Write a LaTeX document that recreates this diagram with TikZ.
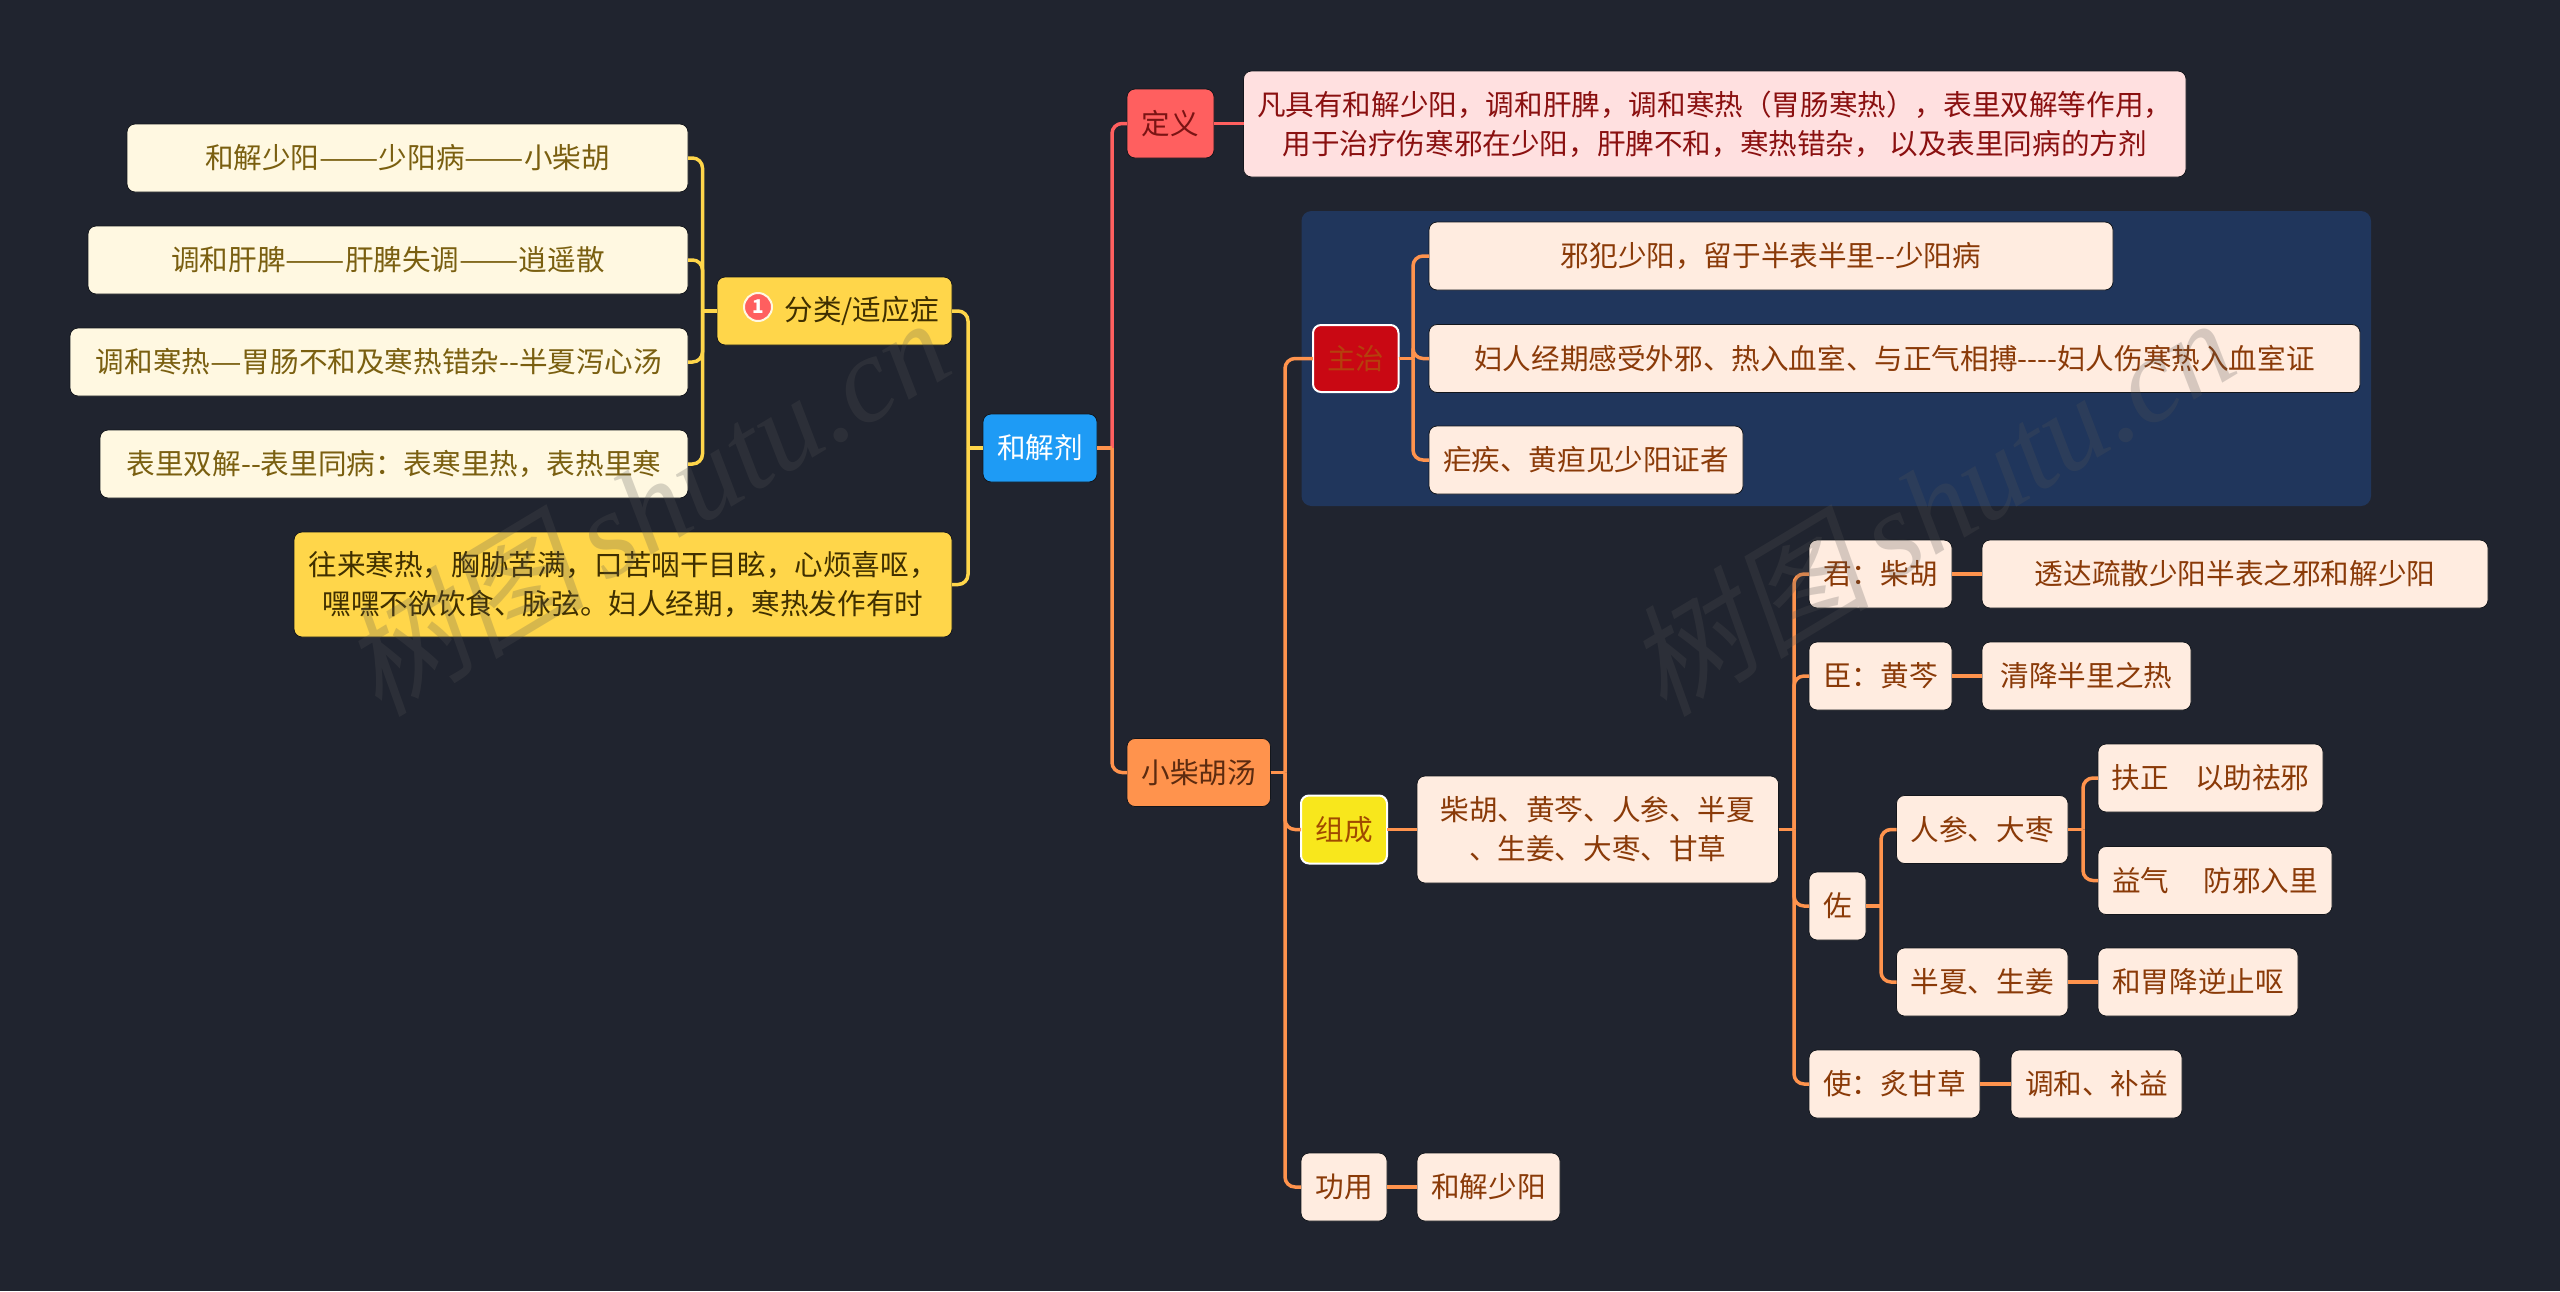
\documentclass[tikz,border=0pt]{standalone}
\usepackage{graphicx}
\usepackage{fontspec}
\setmainfont[Ligatures=NoCommon]{Noto Sans CJK SC}
\newfontfamily\wmcjk[FakeSlant=0.2]{Noto Sans CJK SC}
\newfontfamily\wmlat{Liberation Serif}
\definecolor{bgc}{HTML}{20242F}
\definecolor{panelc}{HTML}{20365C}
\definecolor{yelc}{HTML}{FFD64A}
\definecolor{redc}{HTML}{FF5F5F}
\definecolor{orac}{HTML}{FF934D}
\definecolor{creamf}{HTML}{FFF8E1}
\definecolor{creamt}{HTML}{7A5F10}
\definecolor{goldt}{HTML}{3F2F00}
\definecolor{rootf}{HTML}{1E9BF5}
\definecolor{defht}{HTML}{7A1414}
\definecolor{deff}{HTML}{FFE0E0}
\definecolor{deft}{HTML}{8A1010}
\definecolor{leaff}{HTML}{FFECE0}
\definecolor{leaft}{HTML}{8A3A08}
\definecolor{orat}{HTML}{5C2B10}
\definecolor{zhuf}{HTML}{C90813}
\definecolor{zhut}{HTML}{B5400C}
\definecolor{zucf}{HTML}{F8E71C}
\definecolor{zuct}{HTML}{A04A00}
\definecolor{wmc}{HTML}{555555}
\newcommand\wdash[1]{\scalebox{1.24}[1]{#1}}
\tikzset{
  nd/.style={rounded corners=8pt,inner sep=0pt,outer sep=0pt,align=center,draw=bgc!60!black,line width=.8pt,font=\fontsize{28.6}{39}\selectfont},
  leafL/.style={nd,fill=creamf,text=creamt},
  gold/.style={nd,fill=yelc,text=goldt},
  rootn/.style={nd,fill=rootf,text=white},
  defhead/.style={nd,fill=redc,text=defht},
  deftext/.style={nd,fill=deff,text=deft},
  leafO/.style={nd,fill=leaff,text=leaft},
  orahead/.style={nd,fill=orac,text=orat},
  zhu/.style={nd,fill=zhuf,text=zhut,draw=white,line width=2pt},
  zucheng/.style={nd,fill=zucf,text=zuct,draw=white,line width=2pt},
  lnk/.style={line width=3.5pt,color=#1},
  watermk/.style={rotate=31,text=wmc,opacity=0.24,inner sep=0pt}
}
% name, x1, y1, x2, y2, style, text
\newcommand\bx[7]{\node[#6,minimum width={(#4-#2)*1pt},minimum height={(#5-#3)*1pt}] (#1) at ({(#2+#4)/2},{(#3+#5)/2}) {#7};}
% colour, parent, child, trunk
\newcommand\brR[4]{\draw[lnk=#1] (#2.east) -- (#2.east -| #4);
  \draw[lnk=#1,rounded corners=10pt] (#2.east -| #4) |- (#3.west);}
\newcommand\brL[4]{\draw[lnk=#1] (#2.west) -- (#2.west -| #4);
  \draw[lnk=#1,rounded corners=10pt] (#2.west -| #4) |- (#3.east);}
\newcommand\lk[3]{\draw[lnk=#1] (#2.east) -- (#2.east -| #3.west);}
\begin{document}
\begin{tikzpicture}[x=1pt,y=-1pt]
\fill[bgc] (0,0) rectangle (2560,1291);
\useasboundingbox (0,0) rectangle (2560,1291);
\coordinate (t1) at (702.5,0);
\coordinate (t2) at (968,0);
\coordinate (t3) at (1112,0);
\coordinate (t4) at (1285,0);
\coordinate (t5) at (1413,0);
\coordinate (t6) at (1794,0);
\coordinate (t7) at (1881,0);
\coordinate (t8) at (2083,0);
% panel
\fill[panelc,rounded corners=10pt] (1301.5,211) rectangle (2371,506);
% nodes
\bx{root}{983}{414}{1097}{482}{rootn}{和解剂}
\bx{cat}{717}{277}{952}{345}{gold}{\hspace*{54pt}分类/适应症}
\bx{symp}{294}{532}{952}{637}{gold}{往来寒热，胸胁苦满，口苦咽干目眩，心烦喜呕，\\嘿嘿不欲饮食、脉弦。妇人经期，寒热发作有时}
\bx{la}{127}{124}{688}{192}{leafL}{和解少阳\wdash{——}少阳病\wdash{——}小柴胡}
\bx{lb}{88}{226}{688}{294}{leafL}{调和肝脾\wdash{——}肝脾失调\wdash{——}逍遥散}
\bx{lc}{70}{328}{688}{396}{leafL}{调和寒热\wdash{—}胃肠不和及寒热错杂-{}-半夏泻心汤}
\bx{ld}{100}{430}{688}{498}{leafL}{表里双解-{}-表里同病：表寒里热，表热里寒}
\bx{defh}{1127}{89}{1214}{158}{defhead}{定义}
\bx{deftx}{1243.5}{71}{2186}{177}{deftext}{凡具有和解少阳，调和肝脾，调和寒热（胃肠寒热），表里双解等作用，\\用于治疗伤寒邪在少阳，肝脾不和，寒热错杂， 以及表里同病的方剂}
\bx{xch}{1127}{738.5}{1270.5}{806.5}{orahead}{小柴胡汤}
\bx{zhuz}{1313}{325}{1398.5}{392}{zhu}{主治}
\bx{za}{1429}{222}{2113}{290}{leafO}{邪犯少阳，留于半表半里-{}-少阳病}
\bx{zb}{1429}{324.5}{2360}{392.5}{leafO}{妇人经期感受外邪、热入血室、与正气相搏-{}-{}-{}-妇人伤寒热入血室证}
\bx{zc}{1429}{426}{1743}{494}{leafO}{疟疾、黄疸见少阳证者}
\bx{zuc}{1301}{795.5}{1387}{863.5}{zucheng}{组成}
\bx{zut}{1417}{776}{1778.6}{883}{leafO}{柴胡、黄芩、人参、半夏\\、生姜、大枣、甘草}
\bx{jun}{1809}{540}{1952}{608}{leafO}{君：柴胡}
\bx{juna}{1982}{540}{2488}{608}{leafO}{透达疏散少阳半表之邪和解少阳}
\bx{chen}{1809}{642}{1952}{710}{leafO}{臣：黄芩}
\bx{chena}{1982}{642}{2191}{710}{leafO}{清降半里之热}
\bx{zuo}{1809}{872}{1866}{940}{leafO}{佐}
\bx{rens}{1896.5}{795.5}{2068}{863.5}{leafO}{人参、大枣}
\bx{fz}{2098}{744}{2323}{812}{leafO}{扶正\hspace{20pt} 以助祛邪}
\bx{yq}{2098}{846.5}{2332}{914.5}{leafO}{益气\hspace{28pt} 防邪入里}
\bx{bx}{1896.5}{948}{2068}{1016}{leafO}{半夏、生姜}
\bx{hw}{2098}{948}{2298}{1016}{leafO}{和胃降逆止呕}
\bx{shi}{1809}{1050}{1980}{1118}{leafO}{使：炙甘草}
\bx{shia}{2011}{1050}{2182}{1118}{leafO}{调和、补益}
\bx{gy}{1301}{1153}{1387}{1221}{leafO}{功用}
\bx{gya}{1417}{1153}{1560}{1221}{leafO}{和解少阳}
% badge
\node[circle,fill=redc,draw=creamf,line width=2pt,minimum size=28pt,inner sep=0pt,text=white,font=\fontsize{19}{19}\selectfont\bfseries] (badge) at (758,307) {1};
% connectors
\brL{yelc}{root}{cat}{t2}
\brL{yelc}{root}{symp}{t2}
\brL{yelc}{cat}{la}{t1}
\brL{yelc}{cat}{lb}{t1}
\brL{yelc}{cat}{lc}{t1}
\brL{yelc}{cat}{ld}{t1}
\brR{redc}{root}{defh}{t3}
\lk{redc}{defh}{deftx}
\brR{orac}{root}{xch}{t3}
\brR{orac}{xch}{zhuz}{t4}
\brR{orac}{xch}{zuc}{t4}
\brR{orac}{xch}{gy}{t4}
\brR{orac}{zhuz}{za}{t5}
\brR{orac}{zhuz}{zb}{t5}
\brR{orac}{zhuz}{zc}{t5}
\lk{orac}{zuc}{zut}
\brR{orac}{zut}{jun}{t6}
\brR{orac}{zut}{chen}{t6}
\brR{orac}{zut}{zuo}{t6}
\brR{orac}{zut}{shi}{t6}
\lk{orac}{jun}{juna}
\lk{orac}{chen}{chena}
\brR{orac}{zuo}{rens}{t7}
\brR{orac}{zuo}{bx}{t7}
\brR{orac}{rens}{fz}{t8}
\brR{orac}{rens}{yq}{t8}
\lk{orac}{bx}{hw}
\lk{orac}{shi}{shia}
\lk{orac}{gy}{gya}
% watermarks
\node[watermk] (wma) at (645,505) {\fontsize{122}{122}\selectfont{\wmcjk 树图}\,{\wmlat\itshape shutu.cn}};
\node[watermk] (wmb) at (1930,505) {\fontsize{122}{122}\selectfont{\wmcjk 树图}\,{\wmlat\itshape shutu.cn}};
\end{tikzpicture}
\end{document}
